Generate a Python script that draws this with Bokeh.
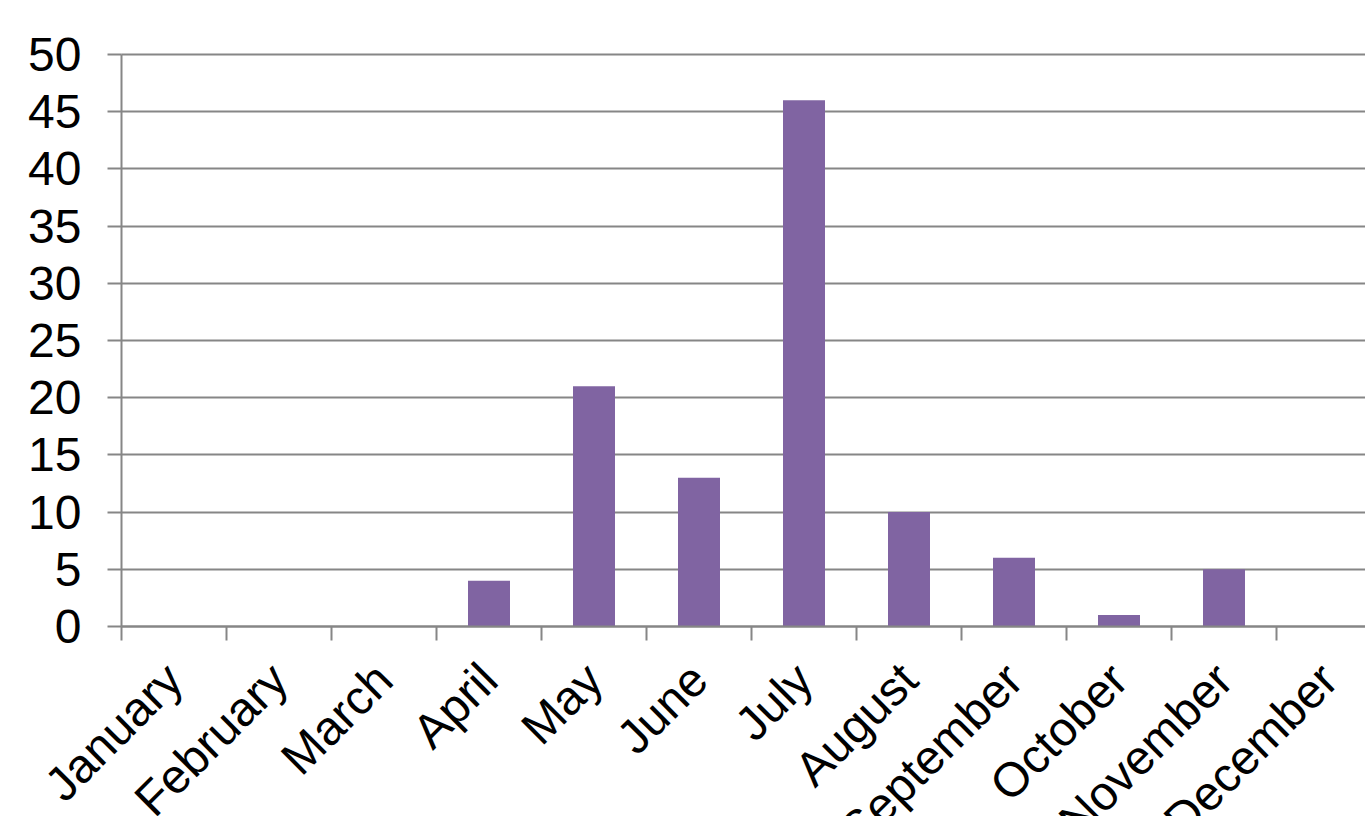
import math
from bokeh.plotting import figure
from bokeh.models import Range1d, FixedTicker
from bokeh.embed import file_html
from bokeh.resources import INLINE

months = ["January", "February", "March", "April", "May", "June",
          "July", "August", "September", "October", "November", "December"]
counts = [0, 0, 0, 4, 21, 13, 46, 10, 6, 1, 5, 0]
y_ticks = [0, 5, 10, 15, 20, 25, 30, 35, 40, 45, 50]

FONT = "Liberation Sans"
GRAY = "#868686"
BAR = "#8064A2"

centers = [i + 0.5 for i in range(len(months))]
bounds = list(range(len(months) + 1))

# 105 px per month and 11.44 px per unit; the frame fills the whole canvas
# so the rotated month names and the y labels have room to draw around
# the pinned axes
PX_X = 105
PX_Y = 11.44
x_lo, x_hi = -121 / PX_X, 1244 / PX_X
y_lo, y_hi = -190 / PX_Y, 50 + 54 / PX_Y

p = figure(width=1365, height=816, output_backend="svg", toolbar_location=None,
           x_range=Range1d(x_lo, x_hi), y_range=Range1d(y_lo, y_hi),
           min_border_left=0, min_border_top=0, min_border_right=0,
           min_border_bottom=0)
p.outline_line_color = None
p.background_fill_color = "white"
p.border_fill_color = "white"

p.vbar(x=centers, top=counts, width=0.4, bottom=0,
       fill_color=BAR, line_color=None)

# y axis pinned at the first month boundary
p.yaxis.fixed_location = 0
p.yaxis.ticker = FixedTicker(ticks=y_ticks)
p.yaxis.bounds = (0, 50)
p.yaxis.axis_line_color = GRAY
p.yaxis.axis_line_width = 2
p.yaxis.major_tick_line_color = GRAY
p.yaxis.major_tick_line_width = 2
p.yaxis.major_tick_out = 14
p.yaxis.major_tick_in = 0
p.yaxis.minor_tick_line_color = None
p.yaxis.major_label_text_font = FONT
p.yaxis.major_label_text_font_size = "48px"
p.yaxis.major_label_text_color = "black"
p.yaxis.major_label_standoff = 26

# x axis pinned at zero: labels centred on each month, ticks on the boundaries
p.xaxis.fixed_location = 0
p.xaxis.ticker = FixedTicker(ticks=centers, minor_ticks=bounds)
p.xaxis.bounds = (0, len(months))
p.xaxis.major_label_overrides = {c: m for c, m in zip(centers, months)}
p.xaxis.major_label_orientation = math.pi / 4
p.xaxis.axis_line_color = GRAY
p.xaxis.axis_line_width = 2
p.xaxis.major_tick_line_color = None
p.xaxis.minor_tick_line_color = GRAY
p.xaxis.minor_tick_line_width = 2
p.xaxis.minor_tick_out = 14
p.xaxis.minor_tick_in = 0
p.xaxis.major_label_text_font = FONT
p.xaxis.major_label_text_font_size = "48px"
p.xaxis.major_label_text_color = "black"
p.xaxis.major_label_standoff = 31

p.xgrid.grid_line_color = None
p.ygrid.ticker = FixedTicker(ticks=y_ticks)
p.ygrid.cross_bounds = (0, len(months))
p.ygrid.grid_line_color = GRAY
p.ygrid.grid_line_width = 2

open("out.html", "w").write(file_html(p, INLINE))
